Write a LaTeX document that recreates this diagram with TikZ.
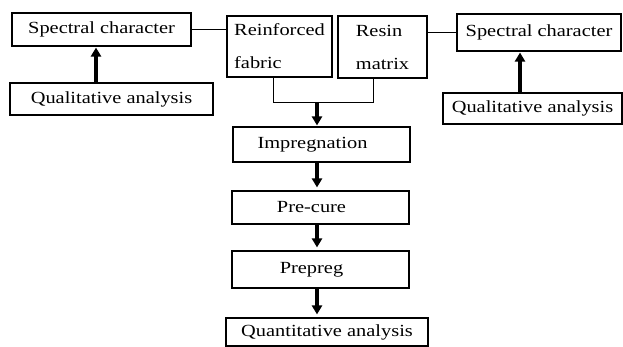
\documentclass[tikz,border=0pt]{standalone}
\usepackage{fontspec}
\setmainfont[FakeStretch=1.2]{Liberation Serif}
\usetikzlibrary{arrows.meta}

\begin{document}
\begin{tikzpicture}[x=1pt,y=-1pt,
	box/.style={draw=black, line width=1.1pt, rectangle, inner sep=0pt, font=\fontsize{17}{33}\selectfont},
	flow/.style={line width=3.1pt, -{Triangle[length=9pt,width=10pt]}, shorten >=1pt},
	link/.style={line width=0.8pt}]

	\def\pad{\hspace*{18pt}}	% pushes the text of the middle column to the left

	\useasboundingbox (0,0) rectangle (623,347);

	% the two raw materials
	\draw (279.5,46.5) node[box, align=left, minimum width=105, minimum height=61] (reinf){Reinforced\\fabric};
	\draw (382.5,47) node[box, align=left, minimum width=89, minimum height=62] (resin){Resin\\matrix};

	% left branch
	\draw (101.5,29.5) node[box, minimum width=179, minimum height=33] (specL){Spectral character};
	\draw (111.5,99) node[box, minimum width=203, minimum height=32] (qualL){Qualitative analysis};

	% right branch
	\draw (539,32.5) node[box, minimum width=164, minimum height=37] (specR){Spectral character};
	\draw (532.5,108.5) node[box, minimum width=179, minimum height=31] (qualR){Qualitative analysis};

	% process column
	\draw (321.5,144.5) node[box, minimum width=177, minimum height=35] (impreg){Impregnation\pad};
	\draw (320.5,207.5) node[box, minimum width=177, minimum height=33] (precure){Pre-cure\pad};
	\draw (320.5,269.5) node[box, minimum width=177, minimum height=37] (prepreg){Prepreg\pad};
	\draw (327,332) node[box, minimum width=202, minimum height=28] (quant){Quantitative analysis};

	\coordinate (jl) at (273,102);
	\coordinate (jr) at (373,102);
	\coordinate (join) at (317,102);
	\coordinate (ql) at (96,0);
	\coordinate (qr) at (520,0);

	% thin links
	\draw[link] (specL.east) -- (specL.east -| reinf.west);
	\draw[link] (specR.west) -- (specR.west -| resin.east);
	\draw[link] (reinf.south -| jl) -- (jl) -- (jr) -- (resin.south -| jr);

	% arrows
	\draw[flow] (qualL.north -| ql) -- (specL.south -| ql);
	\draw[flow] (qualR.north -| qr) -- (specR.south -| qr);
	\draw[flow] (join) -- (impreg.north -| join);
	\foreach \a/\b in {impreg/precure, precure/prepreg, prepreg/quant}{
		\draw[flow, shorten >=3pt] (\a.south -| join) -- (\b.north -| join);
	}

\end{tikzpicture}
\end{document}
